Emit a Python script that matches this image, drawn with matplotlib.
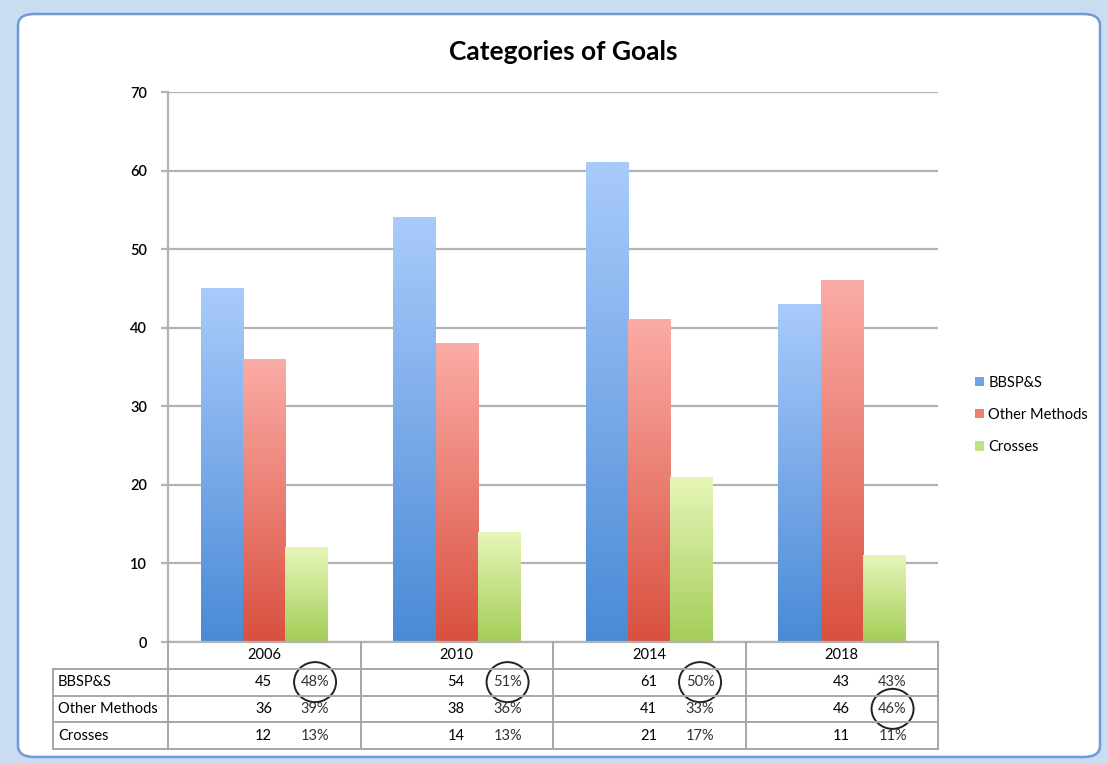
"""
Categories of Goals - grouped bars with a data table underneath
"""
# IMPORTS
import numpy as np
import matplotlib
matplotlib.use("Agg")
import matplotlib.pyplot as plt

from matplotlib.patches import Patch, Ellipse, FancyBboxPatch
from matplotlib.colors import LinearSegmentedColormap

# VARIABLES
years = ["2006", "2010", "2014", "2018"]
series_names = ["BBSP&S", "Other Methods", "Crosses"]
bbsps = [45, 54, 61, 43]
other_methods = [36, 38, 41, 46]
crosses = [12, 14, 21, 11]
bbsps_pct = ["48%", "51%", "50%", "43%"]
other_pct = ["39%", "36%", "33%", "46%"]
crosses_pct = ["13%", "13%", "17%", "11%"]
y_ticks = [0, 10, 20, 30, 40, 50, 60, 70]

# top / bottom colours of each bar gradient, and legend swatch colours
grad_colors = [("#a9cbfb", "#4a8ad6"), ("#fbaca6", "#d9503f"), ("#e6f6b8", "#a4cd58")]
legend_colors = ["#6fa3e6", "#ee7f74", "#c2e28a"]

W, H, DPI = 1108, 764, 100
plt.rcParams['font.family'] = ['Lato', 'DejaVu Sans']


# FUNCTIONS
def fx(px):
    return px / W


def fy(py):
    return 1 - py / H


# EXECUTION
fig = plt.figure(figsize=(W / DPI, H / DPI), dpi=DPI)
fig.patch.set_facecolor("#c9dcf2")

# white chart area with rounded frame
frame = FancyBboxPatch((fx(18), fy(757)), fx(1100) - fx(18), fy(14) - fy(757),
                       boxstyle="round,pad=0,rounding_size=0.015",
                       transform=fig.transFigure, facecolor="white",
                       edgecolor="#6f9ad6", linewidth=1.8, zorder=-5)
fig.patches.append(frame)

# main axes
ax = fig.add_axes([fx(168), fy(642), fx(938) - fx(168), fy(92) - fy(642)])
ax.set_facecolor("none")

x = np.arange(len(years))
width = 0.22
all_series = [bbsps, other_methods, crosses]

for i, values in enumerate(all_series):
    bars = ax.bar(x + (i - 1) * width, values, width, color="none",
                  edgecolor="none", zorder=2)
    cmap = LinearSegmentedColormap.from_list("g%d" % i, [grad_colors[i][1], grad_colors[i][0]])
    grad = np.linspace(0, 1, 256).reshape(-1, 1)
    for bar in bars:
        bx, by = bar.get_x(), bar.get_y()
        ax.imshow(grad, cmap=cmap, origin="lower", aspect="auto",
                  extent=(bx, bx + bar.get_width(), by, by + bar.get_height()),
                  zorder=2)

ax.set_xlim(-0.5, len(years) - 0.5)
ax.set_ylim(0, 70)
ax.set_yticks(y_ticks)
ax.set_xticks([])
ax.yaxis.grid(True, color="#b3b3b3", linewidth=1.6)
ax.set_axisbelow(True)
for side in ["top", "right"]:
    ax.spines[side].set_visible(False)
ax.spines["left"].set_color("#b3b3b3")
ax.spines["left"].set_linewidth(1.6)
ax.spines["bottom"].set_color("#b3b3b3")
ax.spines["bottom"].set_linewidth(1.6)
ax.tick_params(axis="y", length=5, width=1.6, color="#b3b3b3",
               labelsize=10.5, pad=10)
for lbl in ax.get_yticklabels():
    lbl.set_fontweight("semibold")

# title
fig.text(fx(563), fy(52), "Categories of Goals", ha="center", va="center",
         fontsize=19, fontweight="bold")

# legend
handles = [Patch(facecolor=c, edgecolor="none") for c in legend_colors]
fig.legend(handles, series_names, loc="center left",
           bbox_to_anchor=(fx(962), fy(415)), frameon=False, fontsize=10.5,
           handlelength=0.6, handleheight=0.6, handletextpad=0.3,
           labelspacing=1.25)

# data table below the plot
left_px = 53
tax = fig.add_axes([fx(left_px), fy(749), fx(938) - fx(left_px), fy(642) - fy(749)])
tax.axis("off")
x_left = -0.5 - (168 - left_px) / 192.5
tax.set_xlim(x_left, len(years) - 0.5)
tax.set_ylim(4, 0)

line_kw = dict(color="#a6a6a6", linewidth=1.4, clip_on=False)
for r in range(1, 5):
    tax.plot([x_left, len(years) - 0.5], [r, r], **line_kw)
for c in range(len(years) + 1):
    tax.plot([c - 0.5, c - 0.5], [0, 4], **line_kw)
tax.plot([x_left, x_left], [1, 4], **line_kw)

row_values = [bbsps, other_methods, crosses]
row_pcts = [bbsps_pct, other_pct, crosses_pct]

for j, year in enumerate(years):
    tax.text(j, 0.5, year, ha="center", va="center", fontsize=10.5)

for r, name in enumerate(series_names):
    tax.text(x_left + 0.025, r + 1.5, name, ha="left", va="center", fontsize=10.5)
    for j in range(len(years)):
        tax.text(j + 0.04, r + 1.5, str(row_values[r][j]), ha="right",
                 va="center", fontsize=10.5)
        tax.text(j + 0.264, r + 1.5, row_pcts[r][j], ha="center",
                 va="center", fontsize=10.5, color="#333333")

# circle the largest share of each year
for j in range(len(years)):
    shares = [row_values[r][j] for r in range(3)]
    r = int(np.argmax(shares))
    tax.add_patch(Ellipse((j + 0.264, r + 1.5), 42 / 192.5, 40 / 26.75,
                          facecolor="none", edgecolor="#222222",
                          linewidth=1.4, clip_on=False))

# OUTPUT
fig.savefig("out.png", dpi=DPI, facecolor=fig.get_facecolor())
